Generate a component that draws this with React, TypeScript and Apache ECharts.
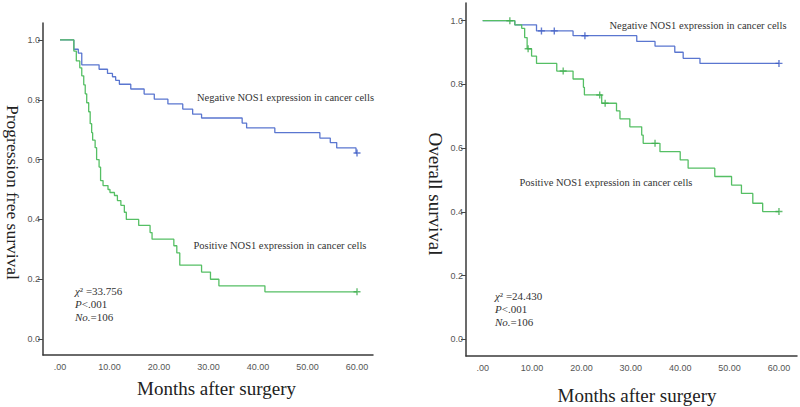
import React, { useEffect, useRef } from "react";
import * as echarts from "echarts";

// ---- Data (months, survival) ----
// Left panel: progression free survival
const leftNegT = [0, 2.8, 3.7, 4.4, 7.9, 9.6, 10.6, 11.25, 12.0, 14.3, 17.0, 19.05, 21.8, 24.8, 26.8, 28.6, 36.8, 37.7, 43.4, 52.5, 54.6, 55.9, 59.8, 60];
const leftNegS = [1.0, 0.969, 0.956, 0.917, 0.902, 0.888, 0.877, 0.865, 0.852, 0.836, 0.819, 0.802, 0.786, 0.769, 0.752, 0.739, 0.722, 0.706, 0.69, 0.672, 0.657, 0.639, 0.622, 0.622];
const leftPosT = [0, 2.8, 3.3, 4.0, 4.4, 4.8, 5.1, 5.4, 5.8, 6.1, 6.4, 6.6, 7.1, 7.4, 7.9, 8.2, 8.7, 9.7, 10.1, 11.0, 11.6, 12.3, 13.0, 13.4, 15.9, 18.2, 18.6, 23.0, 23.6, 24.2, 28.6, 30.4, 32.1, 41.4, 60];
const leftPosS = [1.0, 0.963, 0.93, 0.907, 0.88, 0.85, 0.82, 0.79, 0.76, 0.72, 0.69, 0.665, 0.64, 0.6, 0.575, 0.53, 0.513, 0.5, 0.49, 0.48, 0.463, 0.447, 0.424, 0.4, 0.38, 0.356, 0.334, 0.312, 0.288, 0.247, 0.224, 0.2, 0.178, 0.158, 0.158];
const leftNegCensorT = [60];
const leftNegCensorS = [0.622];
const leftPosCensorT = [60];
const leftPosCensorS = [0.158];

// Right panel: overall survival
const rightNegT = [0, 6.5, 10.9, 18.3, 31.2, 34.9, 38.9, 40.6, 44.0, 60];
const rightNegS = [1.0, 0.987, 0.968, 0.953, 0.935, 0.92, 0.901, 0.882, 0.866, 0.866];
const rightPosT = [0, 6.5, 7.9, 8.5, 9.0, 9.9, 10.9, 15.0, 18.3, 20.4, 20.6, 24.1, 27.1, 27.8, 29.8, 32.2, 32.5, 35.9, 40.0, 41.6, 47.0, 50.4, 52.4, 54.7, 56.7, 60];
const rightPosS = [1.0, 0.987, 0.976, 0.947, 0.912, 0.889, 0.866, 0.842, 0.817, 0.791, 0.767, 0.741, 0.717, 0.692, 0.667, 0.641, 0.615, 0.589, 0.563, 0.537, 0.511, 0.484, 0.458, 0.427, 0.401, 0.401];
const rightNegCensorT = [11.9, 14.5, 20.7, 60];
const rightNegCensorS = [0.968, 0.968, 0.953, 0.866];
const rightPosCensorT = [5.5, 9.2, 16.3, 23.7, 24.8, 34.9, 60];
const rightPosCensorS = [1.0, 0.912, 0.842, 0.767, 0.741, 0.615, 0.401];

// Ticks / labels
const xTicks = [0, 10, 20, 30, 40, 50, 60];
const yTicks = [0, 0.2, 0.4, 0.6, 0.8, 1.0];
const negLabel = "Negative NOS1 expression in cancer cells";
const posLabel = "Positive NOS1 expression in cancer cells";
const xTitle = "Months after surgery";
const leftYTitle = "Progression free survival";
const rightYTitle = "Overall survival";
const leftStats = ["33.756", ".001", "106"];
const rightStats = ["24.430", ".001", "106"];

const BLUE = "#5a76d0";
const GREEN = "#55bf64";
const BLUE_MARK = "#3c5bc4";
const GREEN_MARK = "#3fae4f";
const PLUS = "path://M3.2,0 h1.6 v8 h-1.6 z M0,3.2 h8 v1.6 h-8 z";

const zip = (t: number[], s: number[]) => t.map((v, i) => [v, s[i]]);

const axisLineStyle = { color: "#3a3a3a", width: 1.5 };
const tickLabel = { color: "#555", fontSize: 9, fontFamily: "Liberation Sans, Arial, sans-serif" };

function makeX(gridIndex: number, min: number, max: number) {
  return {
    type: "value",
    gridIndex,
    min,
    max,
    axisLine: { show: true, onZero: false, lineStyle: axisLineStyle },
    axisTick: { show: false },
    splitLine: { show: false },
    axisLabel: {
      ...tickLabel,
      margin: 7,
      customValues: xTicks,
      formatter: (v: number) => (v === 0 ? ".00" : v.toFixed(2)),
    },
  };
}
function makeY(gridIndex: number, min: number, max: number) {
  return {
    type: "value",
    gridIndex,
    min,
    max,
    axisLine: { show: true, onZero: false, lineStyle: axisLineStyle },
    axisTick: { show: true, length: 5, customValues: yTicks, lineStyle: { color: "#444", width: 1 } },
    splitLine: { show: false },
    axisLabel: {
      ...tickLabel,
      margin: 3,
      customValues: yTicks,
      formatter: (v: number) => v.toFixed(1),
    },
  };
}

function lineSeries(idx: number, t: number[], s: number[], color: string) {
  return {
    type: "line",
    xAxisIndex: idx,
    yAxisIndex: idx,
    step: "end",
    data: zip(t, s),
    showSymbol: false,
    symbol: "none",
    lineStyle: { color, width: 1.3 },
    silent: true,
  };
}
function censorSeries(idx: number, t: number[], s: number[], color: string, size: number) {
  return {
    type: "scatter",
    xAxisIndex: idx,
    yAxisIndex: idx,
    data: zip(t, s),
    symbol: PLUS,
    symbolSize: size,
    itemStyle: { color },
    silent: true,
    z: 5,
  };
}

const serif = "Liberation Serif, Times New Roman, serif";

function statsTexts(x: number, ys: number[], vals: string[]) {
  const base = { fontFamily: serif, fontSize: 11, fill: "#333", verticalAlign: "middle", align: "left" };
  const rich = { i: { fontStyle: "italic", fontFamily: serif, fontSize: 11, fill: "#333" } };
  return [
    { type: "text", x, y: ys[0], style: { ...base, text: "{i|χ}² =" + vals[0], rich } },
    { type: "text", x, y: ys[1], style: { ...base, text: "{i|P}<" + vals[1], rich } },
    { type: "text", x, y: ys[2], style: { ...base, text: "{i|No.}=" + vals[2], rich } },
  ];
}

export default function App() {
  const ref = useRef<HTMLDivElement>(null);
  useEffect(() => {
    if (!ref.current) return;
    const chart = echarts.init(ref.current, undefined, { renderer: "svg" });
    const annot = { fontFamily: serif, fontSize: 10.5, fill: "#333", verticalAlign: "middle", align: "left" };
    const title = { fontFamily: serif, fontSize: 19, fill: "#222", verticalAlign: "middle", align: "center" };
    const option: any = {
      animation: false,
      grid: [
        { left: 43, top: 23, width: 330, height: 332 },
        { left: 466, top: 3, width: 331, height: 353 },
      ],
      xAxis: [makeX(0, -3.43, 63.23), makeX(1, -3.38, 63.65)],
      yAxis: [makeY(0, -0.0533, 1.0567), makeY(1, -0.0524, 1.0556)],
      series: [
        lineSeries(0, leftNegT, leftNegS, BLUE),
        lineSeries(0, leftPosT, leftPosS, GREEN),
        lineSeries(1, rightNegT, rightNegS, BLUE),
        lineSeries(1, rightPosT, rightPosS, GREEN),
        censorSeries(0, leftNegCensorT, leftNegCensorS, BLUE_MARK, 7),
        censorSeries(0, leftPosCensorT, leftPosCensorS, GREEN_MARK, 7),
        censorSeries(1, rightNegCensorT, rightNegCensorS, BLUE_MARK, 7),
        censorSeries(1, rightPosCensorT, rightPosCensorS, GREEN_MARK, 7),
      ],
      graphic: [
        { type: "text", x: 197, y: 97.5, style: { ...annot, text: negLabel } },
        { type: "text", x: 193.5, y: 245.5, style: { ...annot, text: posLabel } },
        { type: "text", x: 609.5, y: 25, style: { ...annot, text: negLabel } },
        { type: "text", x: 519.5, y: 182.5, style: { ...annot, text: posLabel } },
        ...statsTexts(75, [291, 304, 317], leftStats),
        ...statsTexts(495, [295.5, 308.5, 321.5], rightStats),
        { type: "text", x: 216.5, y: 388, style: { ...title, text: xTitle } },
        { type: "text", x: 637, y: 395, style: { ...title, text: xTitle } },
        { type: "text", x: 12.5, y: 192.5, rotation: -Math.PI / 2, style: { ...title, fontSize: 17.5, text: leftYTitle } },
        { type: "text", x: 435, y: 194, rotation: -Math.PI / 2, style: { ...title, text: rightYTitle } },
      ],
    };
    chart.setOption(option);
    return () => chart.dispose();
  }, []);
  return (
    <div
      ref={ref}
      style={{ position: "fixed", left: 0, top: 0, width: 800, height: 407, background: "#fff" }}
    />
  );
}
